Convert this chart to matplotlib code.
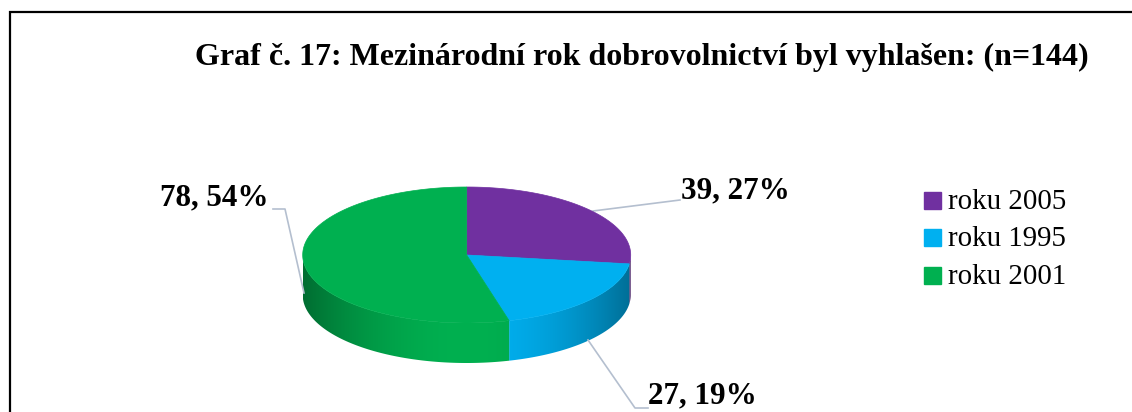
import numpy as np
import matplotlib
matplotlib.use("Agg")
import matplotlib.pyplot as plt
from matplotlib.colors import to_rgb
from matplotlib.patches import Rectangle, Polygon

# data
categories = ["roku 2005", "roku 1995", "roku 2001"]
counts = [39, 27, 78]
colors = ["#7030A0", "#00B0F0", "#00B050"]
title = "Graf č. 17: Mezinárodní rok dobrovolnictví byl vyhlašen: (n=144)"

total = sum(counts)
labels = ["%d, %d%%" % (c, round(100 * c / total)) for c in counts]

plt.rcParams['font.family'] = ['Liberation Serif', 'DejaVu Serif']

W, H = 1132, 412
fig = plt.figure(figsize=(W / 100, H / 100), dpi=100)
ax = fig.add_axes([0, 0, 1, 1])
ax.set_xlim(0, W)
ax.set_ylim(H, 0)
ax.axis("off")

# frame (cut off at the bottom/right like the original)
ax.plot([9.5, 9.5, W], [H, 12, 12], color="black", lw=1.6, solid_joinstyle="miter")

# 3D pie geometry (pixels)
cx, cy, rx, ry, depth = 466.7, 255, 164, 68, 40

fracs = np.array(counts) / total
edges = 90 - 360 * np.concatenate([[0], np.cumsum(fracs)])  # clockwise from 12 o'clock


def pt(t, dy=0):
    r = np.radians(t)
    return cx + rx * np.cos(r), cy - ry * np.sin(r) + dy


# side walls (front half only), shaded like a cylinder via a clipped gradient
gx = np.linspace(cx - rx, cx + rx, 400)
shade = 0.62 + 0.38 * (1 - ((gx - cx) / rx) ** 2)
for i, col in enumerate(colors):
    a0, a1 = edges[i], edges[i + 1]
    lo, hi = max(min(a0, a1), -180), min(max(a0, a1), 0)
    if lo >= hi:
        continue
    ts = np.linspace(lo, hi, 200)
    top = [pt(t) for t in ts]
    bot = [pt(t, depth) for t in ts[::-1]]
    poly = Polygon(top + bot, closed=True, fc="none", ec="none")
    ax.add_patch(poly)
    base = np.array(to_rgb(col))
    img = np.clip(shade[None, :, None] * base[None, None, :], 0, 1)
    im = ax.imshow(img, extent=(cx - rx, cx + rx, cy + ry + depth + 2, cy - 2),
                   aspect="auto", interpolation="bilinear")
    im.set_clip_path(poly)
ax.set_xlim(0, W)
ax.set_ylim(H, 0)

# top face
for i, col in enumerate(colors):
    ts = np.linspace(edges[i], edges[i + 1], 200)
    xs = [cx] + [pt(t)[0] for t in ts]
    ys = [cy] + [pt(t)[1] for t in ts]
    ax.fill(xs, ys, color=col, lw=0.5, ec=col, zorder=3)

# leader lines
lc = "#b4bfcf"
ax.plot([593, 680], [211, 200], color=lc, lw=1.2)
ax.plot([588, 635, 648], [340, 408, 408], color=lc, lw=1.2)
ax.plot([304, 285, 273], [293, 209, 209], color=lc, lw=1.2)

# data labels
lab_pos = [(681, 198, "left"), (648, 403, "left"), (269, 205, "right")]
for (x, y, ha), txt in zip(lab_pos, labels):
    ax.text(x, y, txt, ha=ha, va="baseline", fontsize=22.4, fontweight="bold")

# title
ax.text(642, 65, title, ha="center", va="baseline", fontsize=23, fontweight="bold")

# legend
for i, (cat, col) in enumerate(zip(categories, colors)):
    yc = 200 + 37.7 * i
    ax.add_patch(Rectangle((924, yc - 8.5), 17, 17, color=col))
    ax.text(948, yc + 8.5, cat, ha="left", va="baseline", fontsize=20.8)

fig.savefig("out.png", dpi=100)
